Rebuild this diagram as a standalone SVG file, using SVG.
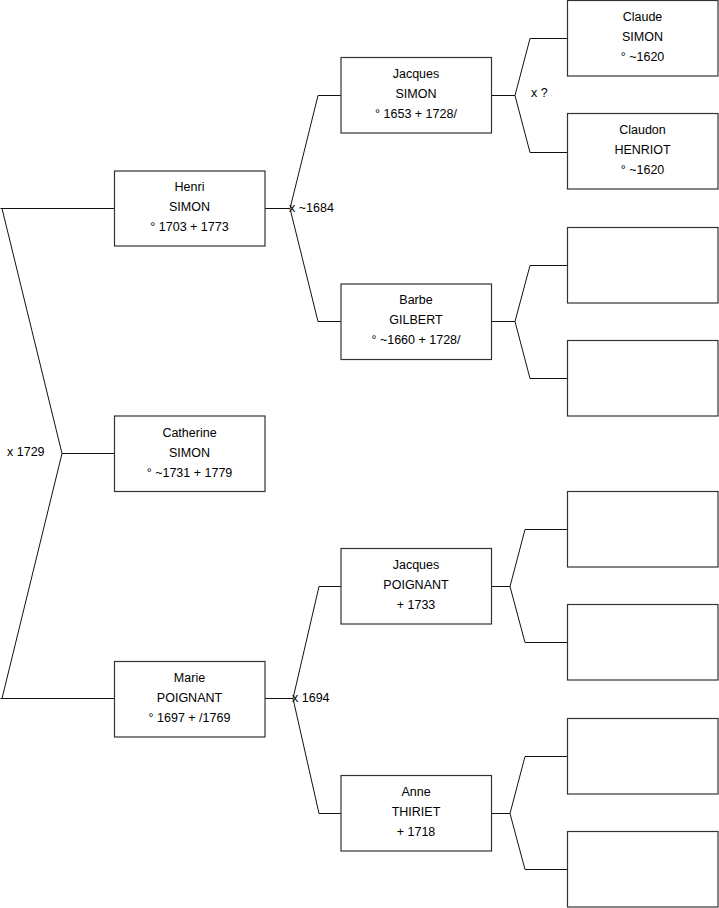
<svg xmlns="http://www.w3.org/2000/svg" width="719" height="908" viewBox="0 0 719 908">
<style>
.box{fill:#fff;stroke:#333;stroke-width:1.2}
.ln{fill:none;stroke:#111;stroke-width:1}
text{font-family:"Liberation Sans",Arial,sans-serif;font-size:12.5px;fill:#000}
.c{text-anchor:middle}
</style>
<rect width="719" height="908" fill="#fff"/>
<g id="connectors">
<polyline class="ln" points="114,208.5 0.5,208.5"/>
<polyline class="ln" points="2,208.5 62,453.5 2,698.5"/>
<polyline class="ln" points="62,453.5 114,453.5"/>
<polyline class="ln" points="0.5,698.5 114,698.5"/>
<polyline class="ln" points="265,208.5 290,208.5"/>
<polyline class="ln" points="341,95.5 318,95.5 290,208.5 318,321.5 341,321.5"/>
<polyline class="ln" points="265,698.5 293,698.5"/>
<polyline class="ln" points="341,586.5 319,586.5 293,698.5 319,813.5 341,813.5"/>
<polyline class="ln" points="491,95.5 515,95.5"/>
<polyline class="ln" points="567,38.5 530,38.5 515,95.5 530,152.5 567,152.5"/>
<polyline class="ln" points="491,321.5 515,321.5"/>
<polyline class="ln" points="567,265.5 530,265.5 515,321.5 530,378.5 567,378.5"/>
<polyline class="ln" points="491,586.5 510,586.5"/>
<polyline class="ln" points="567,529.5 525,529.5 510,586.5 525,642.5 567,642.5"/>
<polyline class="ln" points="491,813.5 510,813.5"/>
<polyline class="ln" points="567,756.5 525,756.5 510,813.5 525,869.5 567,869.5"/>
<text x="7" y="456">x 1729</text>
<text x="289" y="212">x ~1684</text>
<text x="292" y="702">x 1694</text>
<text x="531" y="97">x ?</text>
</g>
<g id="henri"><rect class="box" x="114.5" y="171" width="150.5" height="75"/>
<text class="c" x="189.5" y="191">Henri</text><text class="c" x="189.5" y="211">SIMON</text><text class="c" x="189.5" y="231">° 1703 + 1773</text></g>
<g id="catherine"><rect class="box" x="114.5" y="416" width="150.5" height="75.5"/>
<text class="c" x="189.5" y="437">Catherine</text><text class="c" x="189.5" y="457">SIMON</text><text class="c" x="189.5" y="477">° ~1731 + 1779</text></g>
<g id="marie"><rect class="box" x="114.5" y="661.5" width="150.5" height="75.5"/>
<text class="c" x="189.5" y="682">Marie</text><text class="c" x="189.5" y="702">POIGNANT</text><text class="c" x="189.5" y="722">° 1697 + /1769</text></g>
<g id="jacques-simon"><rect class="box" x="341" y="57.5" width="150.5" height="75.5"/>
<text class="c" x="416" y="78">Jacques</text><text class="c" x="416" y="98">SIMON</text><text class="c" x="416" y="118">° 1653 + 1728/</text></g>
<g id="barbe"><rect class="box" x="341" y="284" width="150.5" height="75.5"/>
<text class="c" x="416" y="304">Barbe</text><text class="c" x="416" y="324">GILBERT</text><text class="c" x="416" y="344">° ~1660 + 1728/</text></g>
<g id="jacques-poignant"><rect class="box" x="341" y="548.5" width="150.5" height="75.5"/>
<text class="c" x="416" y="569">Jacques</text><text class="c" x="416" y="589">POIGNANT</text><text class="c" x="416" y="609"> + 1733</text></g>
<g id="anne"><rect class="box" x="341" y="775.5" width="150.5" height="75.5"/>
<text class="c" x="416" y="796">Anne</text><text class="c" x="416" y="816">THIRIET</text><text class="c" x="416" y="836"> + 1718</text></g>
<g id="claude"><rect class="box" x="567.5" y="0.5" width="150.5" height="75.5"/>
<text class="c" x="642.5" y="21">Claude</text><text class="c" x="642.5" y="41">SIMON</text><text class="c" x="642.5" y="61">° ~1620</text></g>
<g id="claudon"><rect class="box" x="567.5" y="113.5" width="150.5" height="75.5"/>
<text class="c" x="642.5" y="134">Claudon</text><text class="c" x="642.5" y="154">HENRIOT</text><text class="c" x="642.5" y="174">° ~1620</text></g>
<g id="empty1"><rect class="box" x="567.5" y="227.5" width="150.5" height="75.5"/></g>
<g id="empty2"><rect class="box" x="567.5" y="340.5" width="150.5" height="75.5"/></g>
<g id="empty3"><rect class="box" x="567.5" y="491.5" width="150.5" height="75.5"/></g>
<g id="empty4"><rect class="box" x="567.5" y="604.5" width="150.5" height="75.5"/></g>
<g id="empty5"><rect class="box" x="567.5" y="718.5" width="150.5" height="75.5"/></g>
<g id="empty6"><rect class="box" x="567.5" y="831.5" width="150.5" height="75.5"/></g>
</svg>
